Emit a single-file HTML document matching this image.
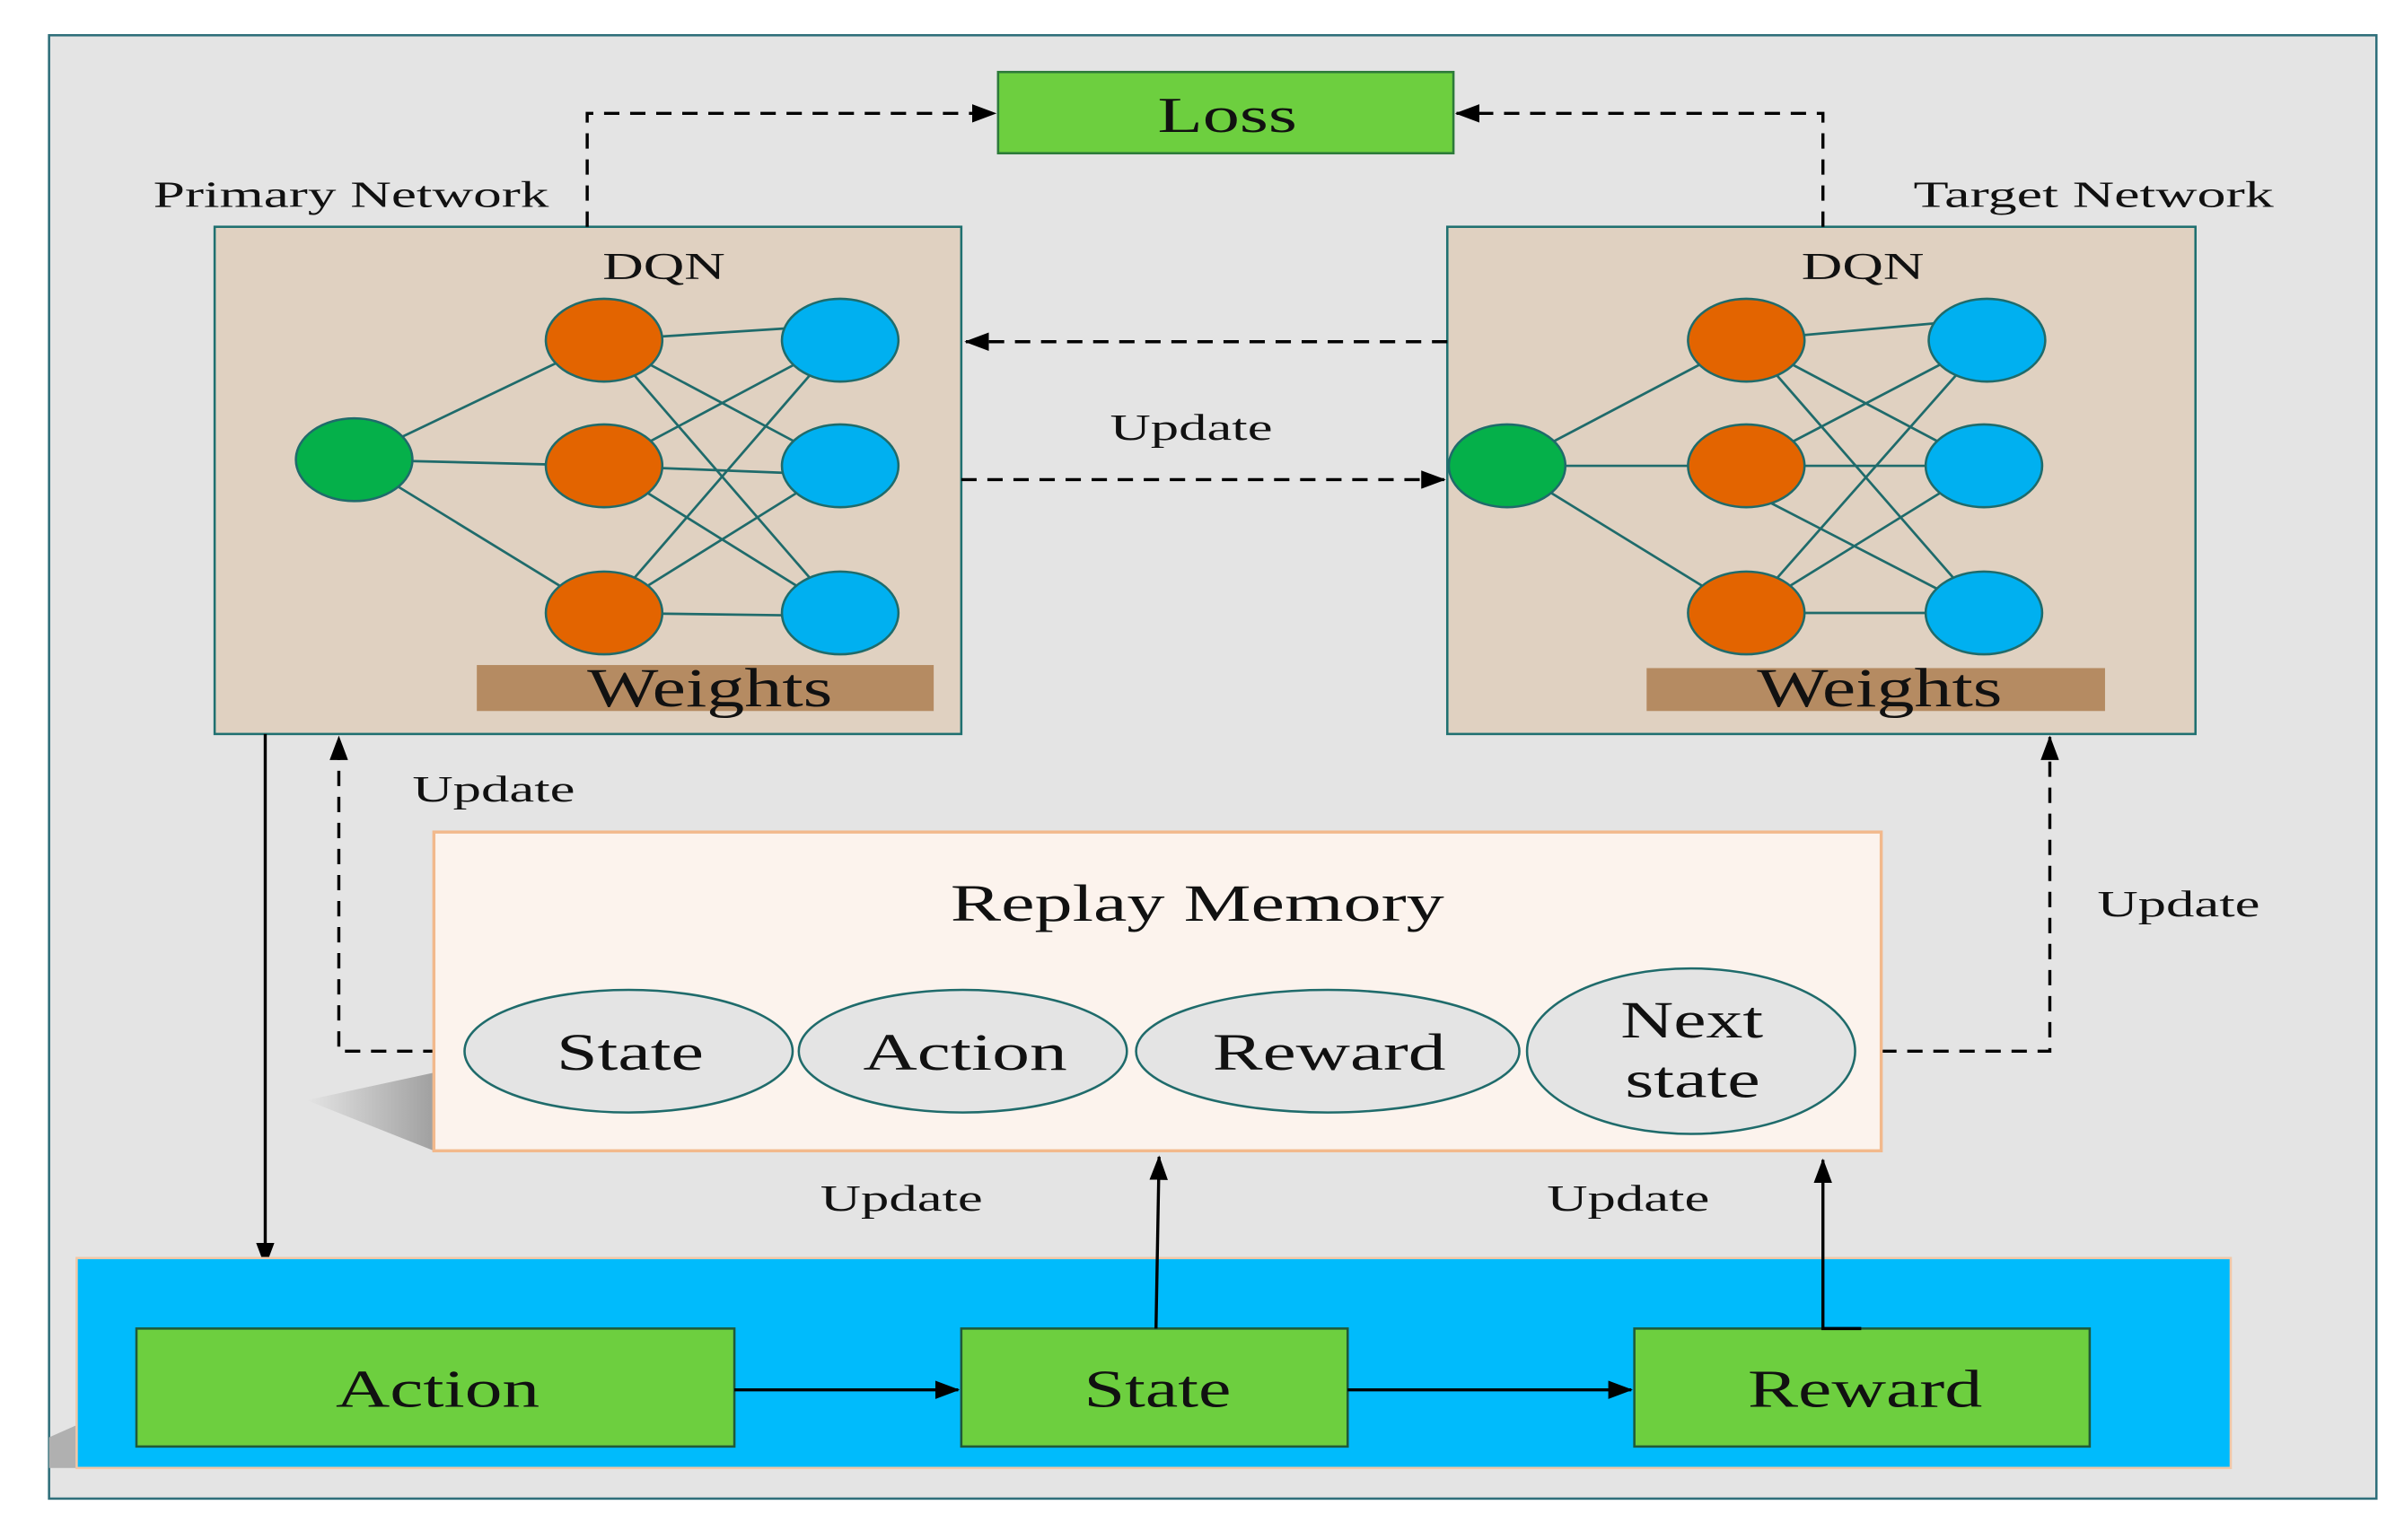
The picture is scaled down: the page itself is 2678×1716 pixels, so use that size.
<!DOCTYPE html>
<html><head><meta charset="utf-8"><style>
html,body{margin:0;padding:0;background:#fff;}
svg{display:block;}
text{font-family:"Liberation Serif",serif;fill:#111;}
</style></head><body>
<svg width="2678" height="1716" viewBox="0 0 1568 1005" preserveAspectRatio="none" xmlns="http://www.w3.org/2000/svg">
<defs>
<marker id="ah" markerWidth="16" markerHeight="12" refX="15" refY="6" orient="auto" markerUnits="userSpaceOnUse">
<path d="M0,0 L16,6 L0,12 z" fill="#000"/></marker>
<linearGradient id="sh" x1="0" y1="0" x2="1" y2="0"><stop offset="0" stop-color="#e4e4e4"/><stop offset="1" stop-color="#a0a0a0"/></linearGradient>
</defs>
<rect x="0" y="0" width="1568" height="1005" fill="#fff"/>
<rect x="32" y="23" width="1518" height="955" fill="#e4e4e4" stroke="#2f6f7a" stroke-width="1.5"/>

<rect x="651" y="47" width="297" height="53" fill="#6dcf3f" stroke="#2d7a3a" stroke-width="1.5"/>
<text x="755" y="86" font-size="33" textLength="91" lengthAdjust="spacingAndGlyphs">Loss</text>

<text x="100" y="135" font-size="24" textLength="258" lengthAdjust="spacingAndGlyphs">Primary Network</text>
<text x="1248" y="135" font-size="24" textLength="235" lengthAdjust="spacingAndGlyphs">Target Network</text>

<rect x="140" y="148" width="487" height="331" fill="#e0d1c1" stroke="#1f7070" stroke-width="1.5"/>
<rect x="944" y="148" width="488" height="331" fill="#e0d1c1" stroke="#1f7070" stroke-width="1.5"/>
<text x="393" y="182" font-size="25" textLength="80" lengthAdjust="spacingAndGlyphs">DQN</text>
<text x="1175" y="182" font-size="25" textLength="80" lengthAdjust="spacingAndGlyphs">DQN</text>

<g stroke="#1f6b6b" stroke-width="1.6">
<line x1="231" y1="300" x2="394" y2="222"/><line x1="231" y1="300" x2="394" y2="304"/><line x1="231" y1="300" x2="394" y2="400"/>
<line x1="394" y1="222" x2="548" y2="212"/><line x1="394" y1="222" x2="548" y2="304"/><line x1="394" y1="222" x2="548" y2="400"/>
<line x1="394" y1="304" x2="548" y2="222"/><line x1="394" y1="304" x2="548" y2="310"/><line x1="394" y1="304" x2="548" y2="400"/>
<line x1="394" y1="400" x2="548" y2="222"/><line x1="394" y1="400" x2="548" y2="304"/><line x1="394" y1="400" x2="548" y2="402"/>
<line x1="983" y1="304" x2="1139" y2="222"/><line x1="983" y1="304" x2="1139" y2="304"/><line x1="983" y1="304" x2="1139" y2="400"/>
<line x1="1139" y1="222" x2="1296" y2="208"/><line x1="1139" y1="222" x2="1294" y2="304"/><line x1="1139" y1="222" x2="1294" y2="400"/>
<line x1="1139" y1="304" x2="1296" y2="222"/><line x1="1139" y1="304" x2="1294" y2="304"/><line x1="1139" y1="320" x2="1294" y2="400"/>
<line x1="1139" y1="400" x2="1296" y2="222"/><line x1="1139" y1="400" x2="1294" y2="304"/><line x1="1139" y1="400" x2="1294" y2="400"/>
</g>
<g stroke="#1f6b6b" stroke-width="1.5">
<ellipse cx="231" cy="300" rx="38" ry="27" fill="#05b04a"/>
<ellipse cx="394" cy="222" rx="38" ry="27" fill="#e36400"/>
<ellipse cx="394" cy="304" rx="38" ry="27" fill="#e36400"/>
<ellipse cx="394" cy="400" rx="38" ry="27" fill="#e36400"/>
<ellipse cx="548" cy="222" rx="38" ry="27" fill="#00b0f0"/>
<ellipse cx="548" cy="304" rx="38" ry="27" fill="#00b0f0"/>
<ellipse cx="548" cy="400" rx="38" ry="27" fill="#00b0f0"/>
<ellipse cx="983" cy="304" rx="38" ry="27" fill="#05b04a"/>
<ellipse cx="1139" cy="222" rx="38" ry="27" fill="#e36400"/>
<ellipse cx="1139" cy="304" rx="38" ry="27" fill="#e36400"/>
<ellipse cx="1139" cy="400" rx="38" ry="27" fill="#e36400"/>
<ellipse cx="1296" cy="222" rx="38" ry="27" fill="#00b0f0"/>
<ellipse cx="1294" cy="304" rx="38" ry="27" fill="#00b0f0"/>
<ellipse cx="1294" cy="400" rx="38" ry="27" fill="#00b0f0"/>
</g>
<rect x="311" y="434" width="298" height="30" fill="#b58b62"/>
<rect x="1074" y="436" width="299" height="28" fill="#b58b62"/>
<text x="383" y="461" font-size="36" textLength="160" lengthAdjust="spacingAndGlyphs">Weights</text>
<text x="1146" y="461" font-size="36" textLength="160" lengthAdjust="spacingAndGlyphs">Weights</text>

<g fill="none" stroke="#000" stroke-width="2" stroke-dasharray="10,7">
<polyline points="383,148 383,74 649,74" marker-end="url(#ah)"/>
<polyline points="1189,148 1189,74 950,74" marker-end="url(#ah)"/>
<line x1="944" y1="223" x2="630" y2="223" marker-end="url(#ah)"/>
<line x1="627" y1="313" x2="942" y2="313" marker-end="url(#ah)"/>
<polyline points="303,686 221,686 221,481" marker-end="url(#ah)"/>
<polyline points="1210,686 1337,686 1337,481" marker-end="url(#ah)"/>
</g>
<g font-size="24">
<text x="724" y="287" textLength="106" lengthAdjust="spacingAndGlyphs">Update</text>
<text x="269" y="523" textLength="106" lengthAdjust="spacingAndGlyphs">Update</text>
<text x="1368" y="598" textLength="106" lengthAdjust="spacingAndGlyphs">Update</text>
<text x="535" y="790" textLength="106" lengthAdjust="spacingAndGlyphs">Update</text>
<text x="1009" y="790" textLength="106" lengthAdjust="spacingAndGlyphs">Update</text>
</g>

<line x1="173" y1="479" x2="173" y2="826" stroke="#000" stroke-width="2" marker-end="url(#ah)"/>

<polygon points="200,718 283,700 283,751" fill="url(#sh)"/>
<rect x="283" y="543" width="944" height="208" fill="#fcf3ed" stroke="#f2b98c" stroke-width="2"/>
<text x="620" y="601" font-size="34" textLength="322" lengthAdjust="spacingAndGlyphs">Replay Memory</text>
<g fill="#e4e4e4" stroke="#1f6b6b" stroke-width="1.5">
<ellipse cx="410" cy="686" rx="107" ry="40"/>
<ellipse cx="628" cy="686" rx="107" ry="40"/>
<ellipse cx="866" cy="686" rx="125" ry="40"/>
<ellipse cx="1103" cy="686" rx="107" ry="54"/>
</g>
<g font-size="34">
<text x="363" y="698" textLength="96" lengthAdjust="spacingAndGlyphs">State</text>
<text x="563" y="698" textLength="133" lengthAdjust="spacingAndGlyphs">Action</text>
<text x="791" y="698" textLength="152" lengthAdjust="spacingAndGlyphs">Reward</text>
<text x="1057" y="677" textLength="93" lengthAdjust="spacingAndGlyphs">Next</text>
<text x="1060" y="716" textLength="88" lengthAdjust="spacingAndGlyphs">state</text>
</g>

<polygon points="32,938 50,930 50,958 32,958" fill="#b0b0b0"/>
<rect x="50" y="821" width="1405" height="137" fill="#00bbfc" stroke="#f2c8a8" stroke-width="1.5"/>
<g fill="#6dcf3f" stroke="#1f5a3a" stroke-width="1.5">
<rect x="89" y="867" width="390" height="77"/>
<rect x="627" y="867" width="252" height="77"/>
<rect x="1066" y="867" width="297" height="77"/>
</g>
<g font-size="35">
<text x="219" y="918" textLength="133" lengthAdjust="spacingAndGlyphs">Action</text>
<text x="707" y="918" textLength="96" lengthAdjust="spacingAndGlyphs">State</text>
<text x="1140" y="918" textLength="153" lengthAdjust="spacingAndGlyphs">Reward</text>
</g>
<g stroke="#000" stroke-width="2">
<line x1="479" y1="907" x2="625" y2="907" marker-end="url(#ah)"/>
<line x1="879" y1="907" x2="1064" y2="907" marker-end="url(#ah)"/>
<line x1="754" y1="867" x2="756" y2="755" marker-end="url(#ah)"/>
<polyline points="1214,867 1189,867 1189,757" fill="none" marker-end="url(#ah)"/>
</g>
</svg>
</body></html>
